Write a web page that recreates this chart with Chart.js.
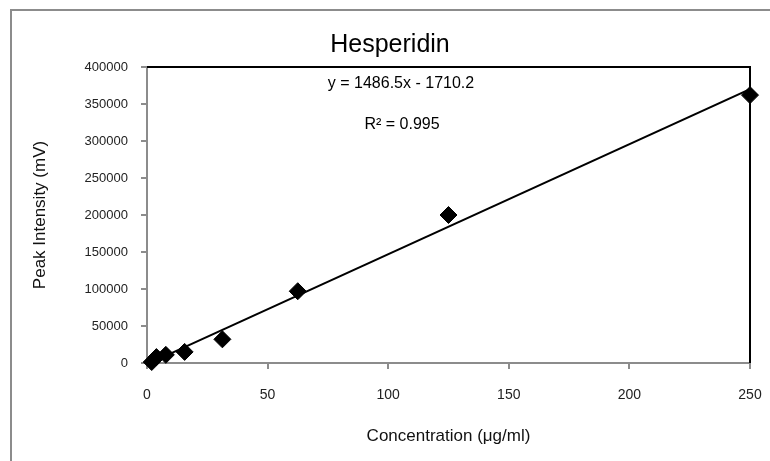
<!DOCTYPE html>
<html>
<head>
<meta charset="utf-8">
<script src="https://cdn.jsdelivr.net/npm/chart.js@4/dist/chart.umd.min.js"></script>
<style>
  html, body { margin: 0; padding: 0; background: #fff; }
  #wrap { width: 770px; height: 461px; }
</style>
</head>
<body>
<div id="wrap"><canvas id="chart" width="770" height="461"></canvas></div>
<script>
const concentration = [1.95, 3.9, 7.8, 15.6, 31.25, 62.5, 125, 250];
const intensity = [1300, 8000, 11000, 15000, 32000, 97000, 200000, 362000];

// trendline end points
const trendX = [1.95, 250];
const trendY = [1190, 369900];

const chartTitle = "Hesperidin";
const equationText = "y = 1486.5x - 1710.2";
const r2Text = "R² = 0.995";

const FONT = "'Liberation Sans', Arial, sans-serif";

const framePlugin = {
  id: "frame",
  beforeDraw(chart) {
    const ctx = chart.ctx;
    ctx.save();
    ctx.fillStyle = "#fff";
    ctx.fillRect(0, 0, chart.width, chart.height);
    ctx.strokeStyle = "#8c8c8c";
    ctx.lineWidth = 2;
    ctx.strokeRect(11, 10, chart.width + 20, chart.height + 20);
    ctx.restore();
  },
  beforeDatasetsDraw(chart) {
    const ctx = chart.ctx;
    const a = chart.chartArea;
    ctx.save();
    ctx.strokeStyle = "#000";
    ctx.lineWidth = 2;
    ctx.beginPath();
    ctx.moveTo(a.left, a.top);
    ctx.lineTo(a.right, a.top);
    ctx.lineTo(a.right, a.bottom);
    ctx.stroke();
    ctx.restore();
  },
  afterDatasetsDraw(chart) {
    const ctx = chart.ctx;
    ctx.save();
    ctx.fillStyle = "#000";
    ctx.textAlign = "center";
    ctx.textBaseline = "middle";
    ctx.font = "25px " + FONT;
    ctx.fillText(chartTitle, 390, 45);
    ctx.font = "16px " + FONT;
    ctx.fillText(equationText, 401, 84);
    ctx.fillText(r2Text, 402, 125);
    ctx.restore();
  }
};

const ctx = document.getElementById("chart").getContext("2d");
new Chart(ctx, {
  type: "scatter",
  data: {
    datasets: [
      {
        label: "Hesperidin",
        data: concentration.map((x, i) => ({ x, y: intensity[i] })),
        pointStyle: "rectRot",
        pointRadius: 8.5,
        pointBackgroundColor: "#000",
        pointBorderColor: "#000",
        pointBorderWidth: 1,
        showLine: false,
        clip: false
      },
      {
        label: "Linear",
        data: trendX.map((x, i) => ({ x, y: trendY[i] })),
        showLine: true,
        borderColor: "#000",
        borderWidth: 2,
        pointRadius: 0,
        fill: false
      }
    ]
  },
  options: {
    responsive: false,
    animation: false,
    layout: { padding: { top: 67, left: 0, right: 20, bottom: 0 } },
    plugins: {
      legend: { display: false },
      tooltip: { enabled: false },
      title: { display: false }
    },
    scales: {
      x: {
        type: "linear",
        min: 0,
        max: 250,
        ticks: { stepSize: 50, color: "#222", font: { family: FONT, size: 14 }, padding: 18 },
        grid: { drawOnChartArea: false, drawTicks: true, tickLength: 6, color: "#8c8c8c", lineWidth: 2 },
        border: { color: "#8c8c8c", width: 2 },
        title: {
          display: true,
          text: "Concentration (μg/ml)",
          color: "#111",
          font: { family: FONT, size: 17 },
          padding: { top: 0, bottom: 14 }
        },
        afterFit(scale) {
          scale.height = 98;
          scale.paddingLeft = 0;
          scale.paddingRight = 0;
        }
      },
      y: {
        min: 0,
        max: 400000,
        ticks: {
          stepSize: 50000,
          color: "#222",
          font: { family: FONT, size: 13 },
          padding: 13,
          callback: v => String(v)
        },
        grid: { drawOnChartArea: false, drawTicks: true, tickLength: 6, color: "#8c8c8c", lineWidth: 2 },
        border: { color: "#8c8c8c", width: 2 },
        title: {
          display: true,
          text: "Peak Intensity (mV)",
          color: "#111",
          font: { family: FONT, size: 17 },
          padding: { top: 30, bottom: 0 }
        },
        afterFit(scale) { scale.width = 147; }
      }
    }
  },
  plugins: [framePlugin]
});
</script>
</body>
</html>
